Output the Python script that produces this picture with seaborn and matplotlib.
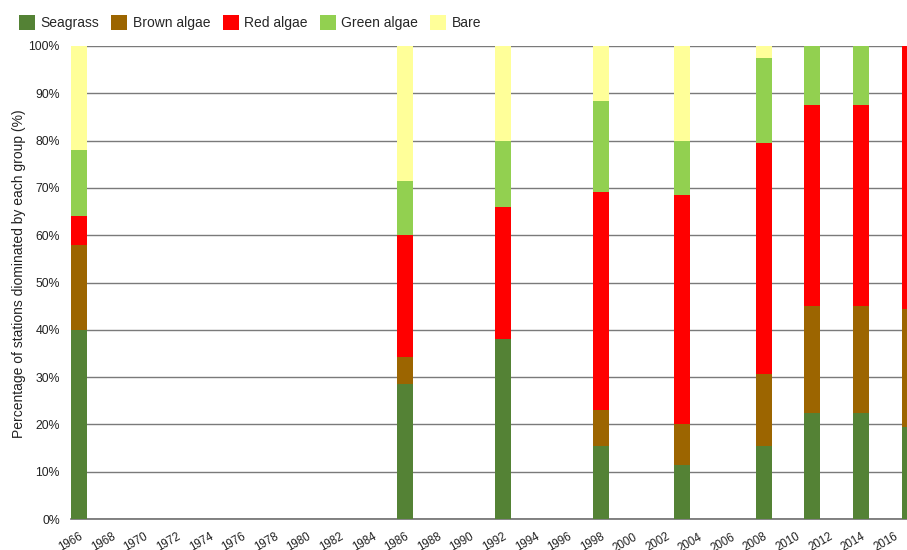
import matplotlib
matplotlib.use("Agg")
import matplotlib.pyplot as plt
import matplotlib.transforms as mtransforms
import seaborn as sns
import pandas as pd
import numpy as np
from matplotlib.patches import Patch

# Survey years and share of stations (%) dominated by each group
survey_years = [1966, 1986, 1992, 1998, 2003, 2008, 2011, 2014, 2017]
seagrass    = [40.0, 28.57, 38.0, 15.38, 11.43, 15.38, 22.5, 22.5, 19.44]
brown_algae = [18.0, 5.71, 0.0, 7.69, 8.57, 15.38, 22.5, 22.5, 25.0]
red_algae   = [6.0, 25.71, 28.0, 46.15, 48.57, 48.72, 42.5, 42.5, 55.56]
green_algae = [14.0, 11.43, 14.0, 19.23, 11.43, 17.95, 12.5, 12.5, 0.0]
bare        = [22.0, 28.57, 20.0, 11.54, 20.0, 2.56, 0.0, 0.0, 0.0]

groups = ["Seagrass", "Brown algae", "Red algae", "Green algae", "Bare"]
colors = ["#548235", "#9C6500", "#FF0000", "#92D050", "#FFFF99"]

all_years = [str(y) for y in range(1966, 2018)]
tick_years = [str(y) for y in range(1966, 2017, 2)]

df = pd.DataFrame({
    "Year": [str(y) for y in survey_years],
    "Seagrass": seagrass,
    "Brown algae": brown_algae,
    "Red algae": red_algae,
    "Green algae": green_algae,
    "Bare": bare,
})
cum = df[groups].cumsum(axis=1)
cum["Year"] = df["Year"]

sns.set_theme(style="white")
plt.rcParams["font.family"] = ["Liberation Sans", "DejaVu Sans"]

fig = plt.figure(figsize=(9.07, 5.5), dpi=100)
ax = fig.add_axes([71 / 907, 31 / 550, 1 - 71 / 907, (519 - 46) / 550])

# Stacked bars: draw cumulative totals from the top layer down
for g, c in reversed(list(zip(groups, colors))):
    sns.barplot(data=cum, x="Year", y=g, order=all_years, color=c,
                saturation=1, width=0.98, linewidth=0, ax=ax, zorder=3)

ax.set_ylim(0, 100)
ax.set_xlim(-0.5, 50.8)
ax.set_yticks(np.arange(0, 101, 10))
ax.set_yticklabels([f"{v}%" for v in range(0, 101, 10)], fontsize=8.8, color="#222222")
ax.yaxis.grid(True, color="#7a7a7a", linewidth=1.0, zorder=0)
ax.set_axisbelow(True)

tick_pos = [all_years.index(y) for y in tick_years]
ax.set_xticks(tick_pos)
ax.set_xticklabels(tick_years, rotation=30, ha="right", va="top",
                   rotation_mode="anchor", fontsize=8.3, color="#222222")
shift = mtransforms.ScaledTranslation(-3 / 100, 0, fig.dpi_scale_trans)
for lbl in ax.get_xticklabels():
    lbl.set_transform(lbl.get_transform() + shift)
ax.tick_params(axis="x", length=0, pad=8.5)
ax.tick_params(axis="y", length=0, pad=8)

for s in ["top", "right", "left"]:
    ax.spines[s].set_visible(False)
ax.spines["bottom"].set_color("#6e6e6e")
ax.spines["bottom"].set_linewidth(1.2)

ax.set_xlabel("")
ax.set_ylabel("Percentage of stations diominated by each group (%)", fontsize=10,
              color="#222222")
ax.yaxis.set_label_coords(-(71 - 26) / (907 - 71), 0.519)

handles = [Patch(facecolor=c, edgecolor="none", label=g) for g, c in zip(groups, colors)]
fig.legend(handles=handles, loc="upper left", bbox_to_anchor=(0.007, 0.996), ncol=5,
           frameon=False, fontsize=10, handlelength=1.15, handleheight=1.3,
           handletextpad=0.4, columnspacing=0.88)

fig.savefig("out.png", dpi=100)
